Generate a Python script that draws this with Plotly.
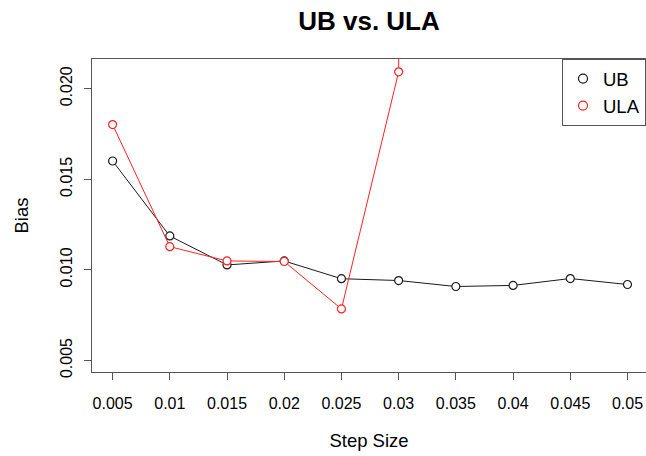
import plotly.graph_objects as go

step_size = [0.005, 0.01, 0.015, 0.02, 0.025, 0.03, 0.035, 0.04, 0.045, 0.05]
ub_bias = [0.01601, 0.01187, 0.01027, 0.01049, 0.00951, 0.00941, 0.00908, 0.00914, 0.00952, 0.00919]
# ULA diverges after 0.03 (value far above the plotted range)
ula_bias = [0.01802, 0.01128, 0.01049, 0.01046, 0.00784, 0.02093, 0.5, None, None, None]
x_tick_labels = ["0.005", "0.01", "0.015", "0.02", "0.025", "0.03", "0.035", "0.04", "0.045", "0.05"]
y_ticks = [0.005, 0.010, 0.015, 0.020]

FONT = "Liberation Sans, Arial, Helvetica, sans-serif"
BLACK = "#1a1a1a"
RED = "#ff2020"

fig = go.Figure()
fig.add_trace(go.Scatter(
    x=step_size, y=ub_bias, mode="lines+markers", name="UB", showlegend=False,
    line=dict(color=BLACK, width=1),
    marker=dict(symbol="circle", size=8, color="white", line=dict(color=BLACK, width=1.2)),
))
fig.add_trace(go.Scatter(
    x=step_size, y=ula_bias, mode="lines+markers", name="ULA", showlegend=False,
    line=dict(color=RED, width=1),
    marker=dict(symbol="circle", size=8, color="white", line=dict(color=RED, width=1.2)),
))
# legend entries (points only, as in the original)
fig.add_trace(go.Scatter(x=[None], y=[None], mode="markers", name="UB",
                         marker=dict(symbol="circle-open", size=9, color=BLACK, line=dict(width=1.2))))
fig.add_trace(go.Scatter(x=[None], y=[None], mode="markers", name="ULA",
                         marker=dict(symbol="circle-open", size=9, color=RED, line=dict(width=1.2))))

fig.update_layout(
    width=646, height=456,
    margin=dict(l=92, r=0, t=59, b=84),
    paper_bgcolor="white", plot_bgcolor="white",
    font=dict(family=FONT, color="black"),
    title=dict(text="<b>UB vs. ULA</b>", x=0.5, xref="paper", xanchor="center",
               y=1 - 21 / 456, yref="container", yanchor="middle",
               font=dict(size=26, family=FONT, color="black")),
    showlegend=True,
    legend=dict(x=1, xanchor="right", y=1, yanchor="top",
                bgcolor="white", bordercolor="#555", borderwidth=1,
                font=dict(size=18.5, family=FONT, color="black"),
                tracegroupgap=0),
)
fig.update_xaxes(
    range=[0.0032, 0.051617],
    tickmode="array", tickvals=step_size, ticktext=x_tick_labels,
    ticks="outside", ticklen=7, tickcolor="#555", tickwidth=1,
    showline=True, linecolor="#555", linewidth=1, mirror=True,
    showgrid=False, zeroline=False,
    tickfont=dict(size=16, family=FONT, color="black"),
    ticklabelstandoff=10,
    title=dict(text="Step Size", font=dict(size=18.5, family=FONT, color="black"), standoff=22),
    automargin=False,
)
fig.update_yaxes(
    range=[0.00436, 0.02164],
    tickmode="array", tickvals=y_ticks, tickformat=".3f",
    ticks="outside", ticklen=7, tickcolor="#555", tickwidth=1,
    showline=True, linecolor="#555", linewidth=1, mirror=False,
    showgrid=False, zeroline=False, tickangle=-90,
    tickfont=dict(size=16, family=FONT, color="black"),
    ticklabelstandoff=6,
    title=dict(text="Bias", font=dict(size=18.5, family=FONT, color="black"), standoff=24),
    automargin=False,
)

fig.write_html("out.html")
